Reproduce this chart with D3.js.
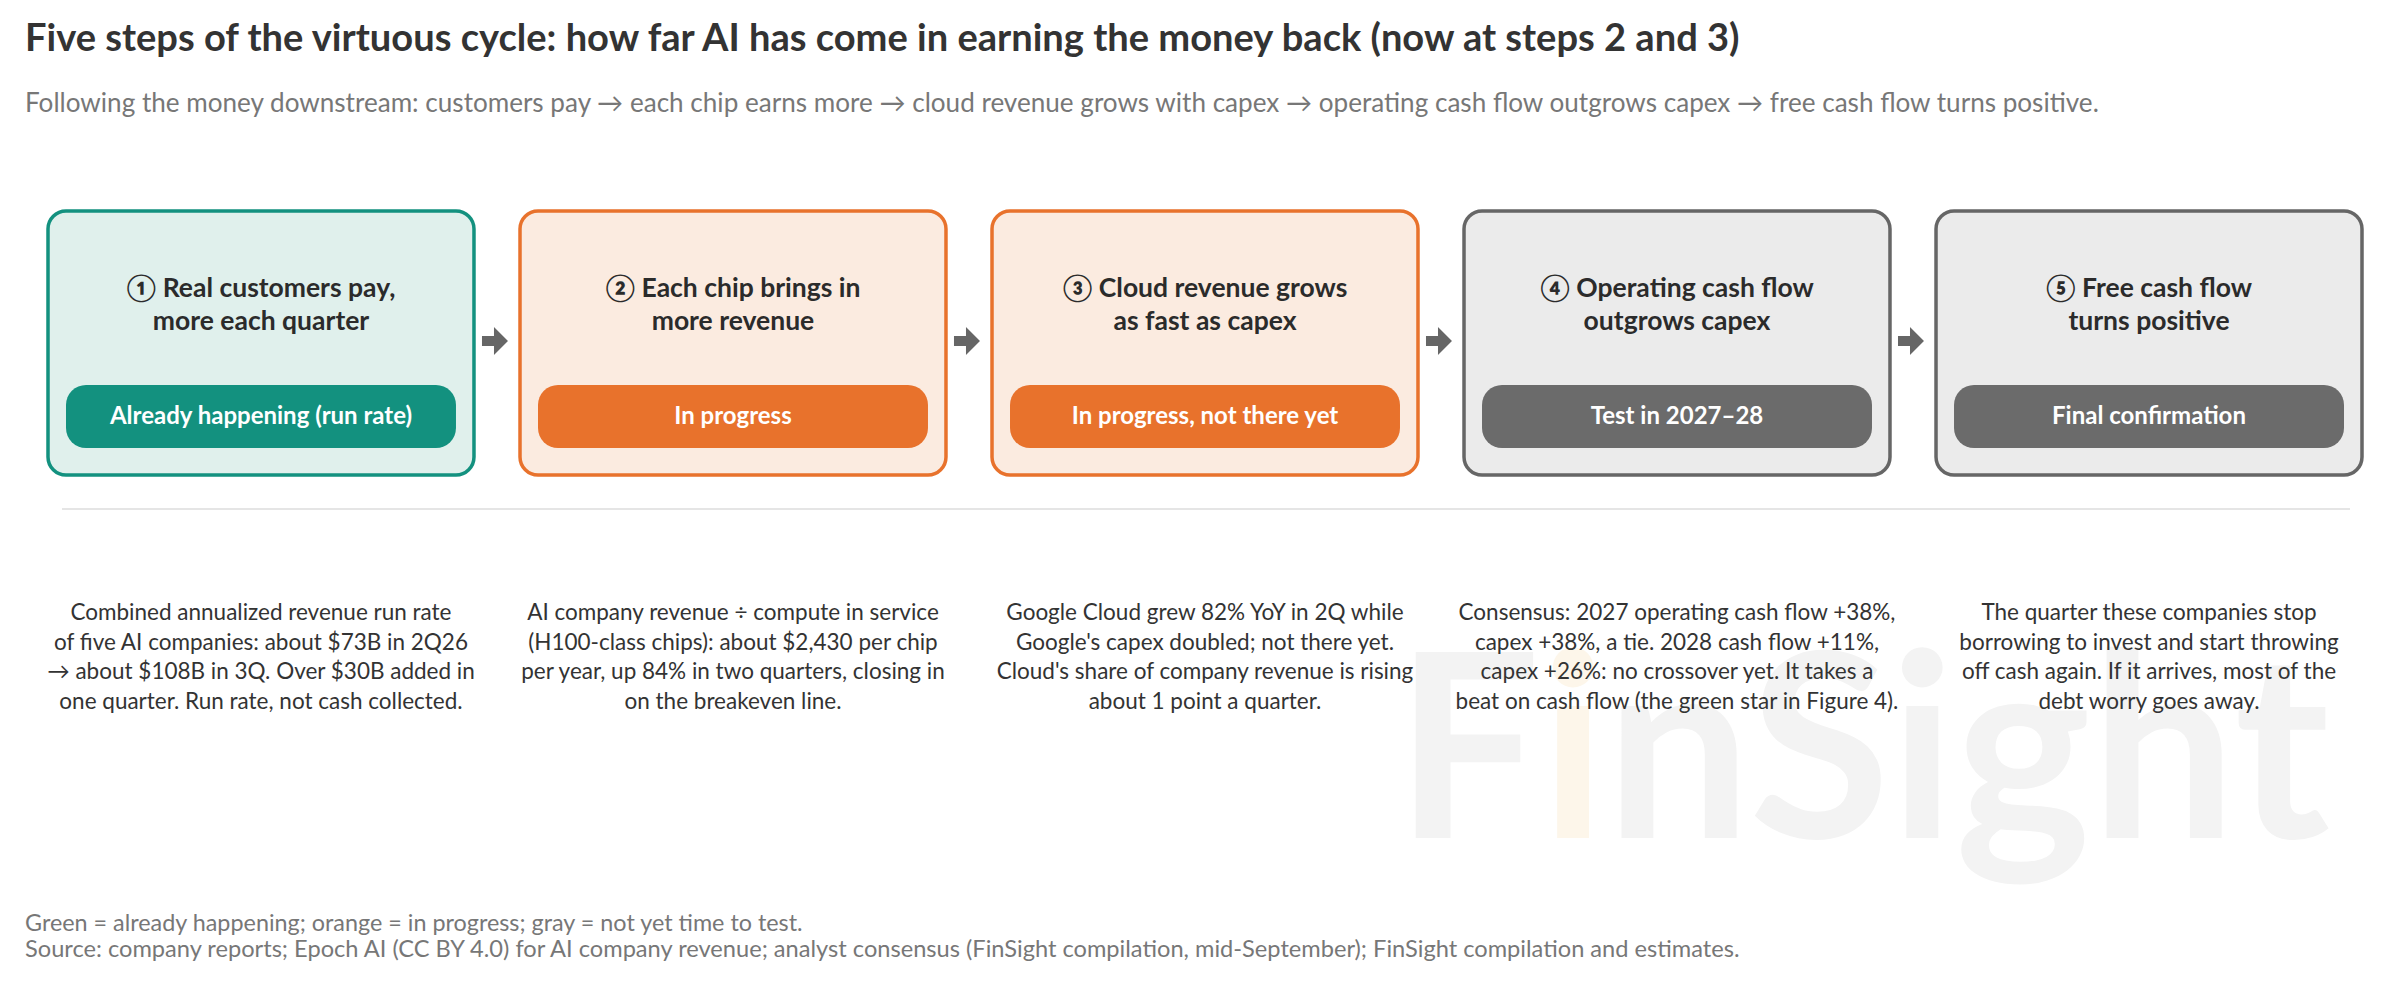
<!DOCTYPE html>
<html><head><meta charset="utf-8">
<script src="https://cdn.jsdelivr.net/npm/d3@7"></script>
<style>body{margin:0;background:#fff}svg{display:block;font-family:Lato,"Noto Sans",sans-serif}</style>
</head><body><svg id="c" width="2400" height="990"></svg>
<script>
const title = "Five steps of the virtuous cycle: how far AI has come in earning the money back (now at steps 2 and 3)";
const subtitle = "Following the money downstream: customers pay \u2192 each chip earns more \u2192 cloud revenue grows with capex \u2192 operating cash flow outgrows capex \u2192 free cash flow turns positive.";
const steps = ["step1","step2","step3","step4","step5"];
const headings = [
  ["\u2460 Real customers pay,","more each quarter"],
  ["\u2461 Each chip brings in","more revenue"],
  ["\u2462 Cloud revenue grows","as fast as capex"],
  ["\u2463 Operating cash flow","outgrows capex"],
  ["\u2464 Free cash flow","turns positive"]];
const statuses = ["Already happening (run rate)","In progress","In progress, not there yet","Test in 2027\u201328","Final confirmation"];
const statusKind = ["green","orange","orange","gray","gray"];
const notes = [
  ["Combined annualized revenue run rate","of five AI companies: about $73B in 2Q26","\u2192 about $108B in 3Q. Over $30B added in","one quarter. Run rate, not cash collected."],
  ["AI company revenue \u00f7 compute in service","(H100-class chips): about $2,430 per chip","per year, up 84% in two quarters, closing in","on the breakeven line."],
  ["Google Cloud grew 82% YoY in 2Q while","Google's capex doubled; not there yet.","Cloud's share of company revenue is rising","about 1 point a quarter."],
  ["Consensus: 2027 operating cash flow +38%,","capex +38%, a tie. 2028 cash flow +11%,","capex +26%: no crossover yet. It takes a","beat on cash flow (the green star in Figure 4)."],
  ["The quarter these companies stop","borrowing to invest and start throwing","off cash again. If it arrives, most of the","debt worry goes away."]];
const footnotes = ["Green = already happening; orange = in progress; gray = not yet time to test.",
  "Source: company reports; Epoch AI (CC BY 4.0) for AI company revenue; analyst consensus (FinSight compilation, mid-September); FinSight compilation and estimates."];
const palette = {green:{stroke:"#13917f",fill:"#e0f0ec",pill:"#13917f"},
  orange:{stroke:"#e8722c",fill:"#fbebe0",pill:"#e8722c"},
  gray:{stroke:"#666666",fill:"#ebebeb",pill:"#6b6b6b"}};

const svg = d3.select("#c");
function fit(sel, w){ const n=sel.node(); let fs=parseFloat(sel.attr("font-size")); const l=n.getComputedTextLength(); sel.attr("font-size", fs*w/l); }

// watermark
const wm = svg.append("text").attr("x",2330).attr("y",838).attr("text-anchor","end")
  .attr("font-size",300).attr("font-weight",700).attr("fill","#f3f3f3");
wm.append("tspan").text("F"); wm.append("tspan").attr("fill","#fdf6ea").text("i"); wm.append("tspan").text("nSight");
fit(wm, 935);

const t = svg.append("text").attr("x",25).attr("y",51).attr("font-size",34).attr("font-weight",700).attr("fill","#333").text(title);
fit(t,1715);
const s = svg.append("text").attr("x",25).attr("y",112).attr("font-size",24).attr("fill","#777").text(subtitle);
fit(s,2075);

const x = d3.scaleBand().domain(steps).range([48,2362]).paddingInner(0.0975);
const bw = x.bandwidth();
const g = svg.selectAll("g.step").data(steps).join("g").attr("transform",d=>`translate(${x(d)},0)`);
g.append("rect").attr("x",0).attr("y",211).attr("width",bw).attr("height",264).attr("rx",18)
  .attr("fill",(d,i)=>palette[statusKind[i]].fill).attr("stroke",(d,i)=>palette[statusKind[i]].stroke).attr("stroke-width",3.5);
g.each(function(d,i){
  const gg=d3.select(this);
  headings[i].forEach((h,j)=>gg.append("text").attr("x",bw/2).attr("y",297+j*33).attr("text-anchor","middle")
    .attr("font-size",26.5).attr("font-weight",700).attr("fill","#2b2b2b").text(h));
  gg.append("rect").attr("x",18).attr("y",385).attr("width",bw-36).attr("height",63).attr("rx",20).attr("fill",palette[statusKind[i]].pill);
  gg.append("text").attr("x",bw/2).attr("y",424).attr("text-anchor","middle").attr("font-size",24).attr("font-weight",700)
    .attr("fill","#fff").text(statuses[i]);
  notes[i].forEach((n,j)=>gg.append("text").attr("x",bw/2).attr("y",620+j*29.5).attr("text-anchor","middle")
    .attr("font-size",22.5).attr("fill","#333").text(n));
});
// arrows
steps.slice(0,-1).forEach((d,i)=>{
  const x0 = x(d)+bw+8, cy=341;
  svg.append("path").attr("d",`M${x0},${cy-5}h12v-9l14,14l-14,14v-9h-12z`).attr("fill","#666");
});
svg.append("line").attr("x1",62).attr("x2",2350).attr("y1",509).attr("y2",509).attr("stroke","#dddddd").attr("stroke-width",1.5);
const fw=[778,1715];
footnotes.forEach((f,i)=>{const ft=svg.append("text").attr("x",25).attr("y",931+i*26).attr("font-size",21).attr("fill","#777").text(f); fit(ft,fw[i]);});
</script></body></html>
